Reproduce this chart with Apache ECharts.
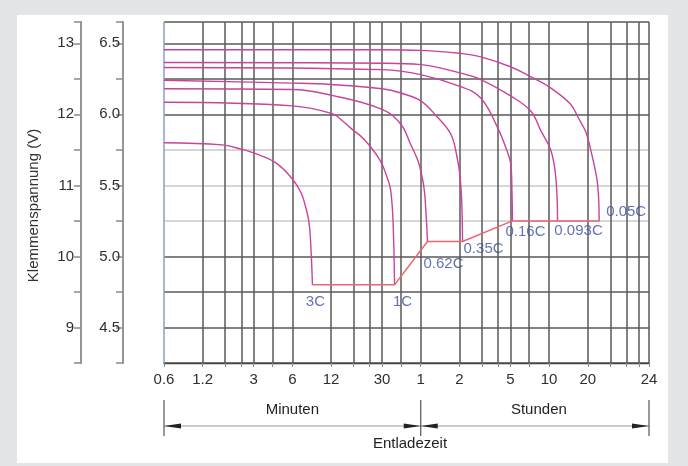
<!DOCTYPE html>
<html>
<head>
<meta charset="utf-8">
<script src="https://cdn.jsdelivr.net/npm/echarts@6/dist/echarts.min.js"></script>
<style>
  html, body { margin: 0; padding: 0; background: #e4e5e7; }
  #chart { width: 688px; height: 466px; }
</style>
</head>
<body>
<div id="chart"></div>
<script>
// Entladezeit in Minuten, Klemmenspannung des 12-V-Blocks
const curve3C = [[0.6, 11.6], [1.7, 11.57], [2.4, 11.51], [3.4, 11.42], [4.6, 11.3], [6, 11.09], [7, 10.9], [7.6, 10.7], [8.1, 10.47], [8.4, 10.06], [8.6, 9.6]]
const curve1C = [[0.6, 12.17], [6, 12.12], [12.3, 12.01], [14.7, 11.91], [17, 11.81], [21.7, 11.65], [29, 11.35], [33, 11.1], [35, 10.93], [36.5, 10.5], [37.5, 9.6]]
const curve062C = [[0.6, 12.36], [6, 12.35], [12, 12.27], [30, 12.07], [42, 11.86], [50, 11.58], [57, 11.35], [61, 11.15], [64, 10.93], [66, 10.6], [67.7, 10.21]]
const curve035C = [[0.6, 12.48], [6, 12.44], [12, 12.42], [30, 12.36], [42, 12.3], [60, 12.19], [80, 11.97], [103, 11.72], [115, 11.4], [121, 11.15], [125, 10.8], [127, 10.21]]
const curve016C = [[0.6, 12.66], [30, 12.63], [60, 12.56], [123, 12.39], [176, 12.23], [240, 11.8], [280, 11.5], [302, 11.3], [308, 10.93], [311, 10.5]]
const curve0093C = [[0.6, 12.73], [30, 12.72], [60, 12.7], [123, 12.58], [176, 12.49], [300, 12.26], [430, 12.05], [517, 11.77], [620, 11.49], [677, 11.11], [698, 10.5]]
const curve005C = [[0.6, 12.91], [30, 12.91], [60, 12.9], [120, 12.86], [176, 12.81], [300, 12.67], [430, 12.53], [620, 12.37], [886, 12.14], [1000, 11.97], [1160, 11.75], [1270, 11.49], [1430, 11.02], [1472, 10.5]]

const curves = [curve3C, curve1C, curve062C, curve035C, curve016C, curve0093C, curve005C]
const curveNames = ['3C', '1C', '0.62C', '0.35C', '0.16C', '0.093C', '0.05C']

// Entladeschlussspannung, verbindet die Kurvenenden
const cutoffLine = [[8.6, 9.6], [37.5, 9.6], [67.7, 10.21], [127, 10.21], [311, 10.5], [698, 10.5], [1472, 10.5]]

// Achsen
const timeGridValues = [0.6, 1.2, 1.8, 2.4, 3, 4.2, 6, 12, 18, 24, 30, 42, 60, 120, 180, 240, 300, 420, 600, 1200, 1800, 2400, 3000, 3600]
const timeLabelValues = [0.6, 1.2, 3, 6, 12, 30, 60, 120, 300, 600, 1200, 3600]
const timeLabelTexts = ['0.6', '1.2', '3', '6', '12', '30', '1', '2', '5', '10', '20', '24']
const volt12Ticks = [8.5, 9, 9.5, 10, 10.5, 11, 11.5, 12, 12.5, 13, 13.3]
const volt12Labels = [9, 10, 11, 12, 13]
const volt6Ticks = [4.25, 4.5, 4.75, 5, 5.25, 5.5, 5.75, 6, 6.25, 6.5, 6.65]
const volt6Labels = [4.5, 5, 5.5, 6, 6.5]

// Abstand der Kurvenbeschriftung vom Kurvenende (px)
const labelOffsets = [[3, 17], [8, 17], [16, 22], [21, 7], [13, 11], [21, 10], [27, -9]]

const FONT = 'Liberation Sans, Arial, sans-serif'
const DARK = '#595959'
const LIGHT = '#c9c9c9'
const lightLines = [10.5, 11, 11.5]

const chart = echarts.init(document.getElementById('chart'))

const curveSeries = curves.map((data, i) => ({
  name: curveNames[i],
  type: 'line',
  data,
  smooth: 0.4,
  showSymbol: false,
  silent: true,
  z: 3,
  lineStyle: { color: '#c8439b', width: 1.4 }
}))

const option = {
  animation: false,
  backgroundColor: '#e4e5e7',
  grid: { left: 164, right: 39, top: 22, bottom: 103, outerBoundsMode: 'none' },
  xAxis: {
    type: 'log',
    logBase: 10,
    min: 0.6,
    max: 3600,
    axisLine: { show: true, lineStyle: { color: '#444', width: 1.4 } },
    axisTick: { show: true, customValues: timeGridValues, length: 4, lineStyle: { color: '#888' } },
    axisLabel: {
      customValues: timeLabelValues,
      formatter: (value) => {
        const idx = timeLabelValues.findIndex((v) => Math.abs(v - value) / v < 1e-3)
        return idx >= 0 ? timeLabelTexts[idx] : ''
      },
      margin: 9,
      fontFamily: FONT,
      fontSize: 15,
      color: '#2e2e2e'
    },
    splitLine: {
      show: true,
      lineStyle: {
        color: timeGridValues.map((v, i) => (i === 0 ? '#8d9dc6' : DARK)),
        width: 1.5
      }
    },
    minorTick: { show: false },
    minorSplitLine: { show: false }
  },
  yAxis: [
    {
      type: 'value',
      position: 'left',
      offset: 83,
      min: 8.5,
      max: 13.3,
      name: 'Klemmenspannung (V)',
      nameLocation: 'middle',
      nameGap: 40,
      nameRotate: 90,
      nameMoveOverlap: false,
      nameTextStyle: { fontFamily: FONT, fontSize: 15, color: '#333', padding: [0, 26, 0, 0] },
      axisLine: { show: true, lineStyle: { color: '#8a8a8a', width: 1.8 } },
      axisTick: { show: true, customValues: volt12Ticks, length: 7, lineStyle: { color: '#8a8a8a', width: 1.5 } },
      axisLabel: {
        customValues: volt12Labels,
        margin: 7,
        fontFamily: FONT,
        fontSize: 15,
        color: '#2e2e2e'
      },
      splitLine: {
        show: true,
        lineStyle: {
          color: volt12Ticks.map((v) => (lightLines.includes(v) ? LIGHT : DARK)),
          width: 1.5
        }
      }
    },
    {
      type: 'value',
      position: 'left',
      offset: 41,
      min: 4.25,
      max: 6.65,
      axisLine: { show: true, lineStyle: { color: '#8a8a8a', width: 1.8 } },
      axisTick: { show: true, customValues: volt6Ticks, length: 7, lineStyle: { color: '#8a8a8a', width: 1.5 } },
      axisLabel: {
        customValues: volt6Labels,
        formatter: (value) => value.toFixed(1),
        margin: 3,
        fontFamily: FONT,
        fontSize: 15,
        color: '#2e2e2e'
      },
      splitLine: { show: false }
    }
  ],
  series: [
    ...curveSeries,
    {
      name: 'Entladeschlussspannung',
      type: 'line',
      data: cutoffLine,
      showSymbol: false,
      silent: true,
      z: 4,
      lineStyle: { color: '#f0646e', width: 1.5 }
    },
    {
      name: 'labels',
      type: 'scatter',
      symbolSize: 0,
      silent: true,
      z: 5,
      data: curves.map((c, i) => ({
        value: c[c.length - 1],
        label: {
          show: true,
          position: 'inside',
          offset: labelOffsets[i],
          formatter: curveNames[i],
          fontFamily: FONT,
          fontSize: 15,
          color: '#3d4f9f'
        }
      }))
    }
  ]
}

chart.setOption(option)

// Bemaßung unter der Zeitachse
const px = (v) => chart.convertToPixel({ xAxisIndex: 0 }, v)
const xStart = px(0.6)
const xHour = px(60)
const xEnd = px(3600)
const yDim = 426

function arrow(tipX, dir) {
  return {
    type: 'polygon',
    shape: { points: [[tipX, yDim], [tipX + dir * 17, yDim - 2.6], [tipX + dir * 17, yDim + 2.6]] },
    style: { fill: '#222' },
    silent: true
  }
}

function vline(x) {
  return {
    type: 'line',
    shape: { x1: x, y1: 400, x2: x, y2: 436 },
    style: { stroke: '#555', lineWidth: 1.2 },
    silent: true
  }
}

chart.setOption({
  graphic: [
    {
      type: 'rect',
      z: -10,
      shape: { x: 17, y: 15, width: 651, height: 448 },
      style: { fill: '#ffffff' },
      silent: true
    },
    {
      type: 'line',
      shape: { x1: xStart, y1: yDim, x2: xEnd, y2: yDim },
      style: { stroke: '#9a9a9a', lineWidth: 1.2 },
      silent: true
    },
    vline(xStart),
    vline(xHour),
    vline(xEnd),
    arrow(xStart, 1),
    arrow(xHour, -1),
    arrow(xHour, 1),
    arrow(xEnd, -1),
    {
      type: 'text',
      x: (xStart + xHour) / 2,
      y: 410,
      style: { text: 'Minuten', fontFamily: FONT, fontSize: 15, fill: '#222', align: 'center', verticalAlign: 'middle' },
      silent: true
    },
    {
      type: 'text',
      x: (xHour + xEnd) / 2 + 4,
      y: 410,
      style: { text: 'Stunden', fontFamily: FONT, fontSize: 15, fill: '#222', align: 'center', verticalAlign: 'middle' },
      silent: true
    },
    {
      type: 'text',
      x: 410,
      y: 444,
      style: { text: 'Entladezeit', fontFamily: FONT, fontSize: 15, fill: '#222', align: 'center', verticalAlign: 'middle' },
      silent: true
    }
  ]
})
</script>
</body>
</html>
